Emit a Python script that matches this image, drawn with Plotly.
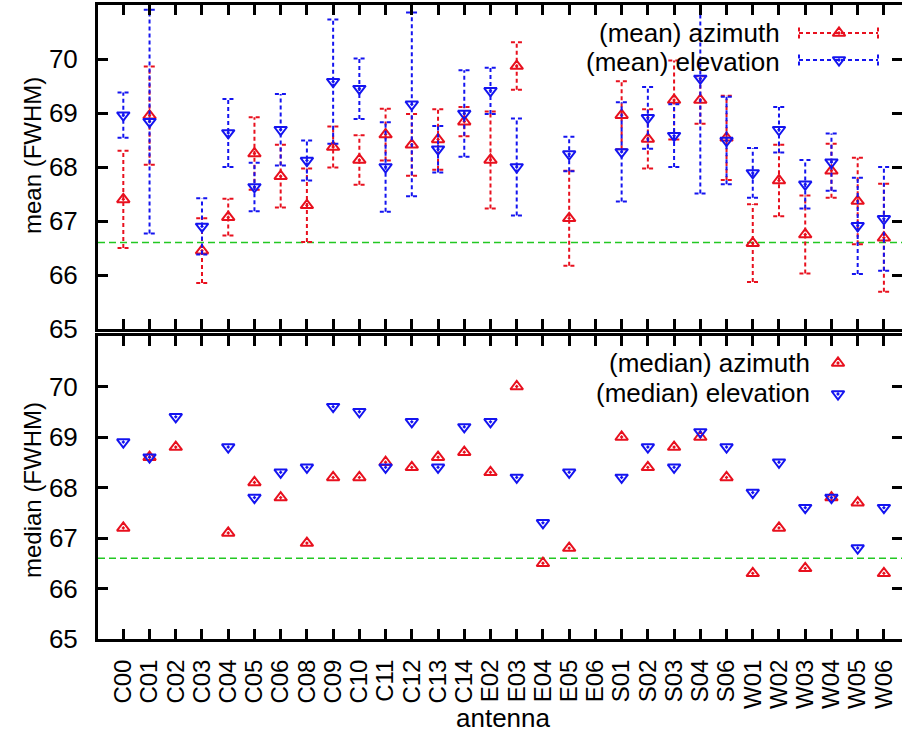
import plotly.graph_objects as go

# Antenna names along the x axis
antennas = ["C00", "C01", "C02", "C03", "C04", "C05", "C06", "C08", "C09", "C10",
            "C11", "C12", "C13", "C14", "E02", "E03", "E04", "E05", "E06", "S01",
            "S02", "S03", "S04", "S06", "W01", "W02", "W03", "W04", "W05", "W06"]

# Mean beam width (FWHM) and its standard deviation
mean_az = [67.40, 68.95, None, 66.45, 67.07, 68.25, 67.83, 67.29, 68.37, 68.13,
           68.60, 68.41, 68.51, 68.84, 68.13, 69.87, None, 67.05, None, 68.96,
           68.52, 69.24, 69.24, 68.54, 66.59, 67.75, 66.75, 67.93, 67.37, 66.69]
std_az = [0.90, 0.91, None, 0.60, 0.34, 0.67, 0.58, 0.68, 0.38, 0.46,
          0.48, 0.57, 0.56, 0.27, 0.90, 0.44, None, 0.88, None, 0.63,
          0.55, 0.73, 0.44, 0.78, 0.72, 0.66, 0.72, 0.50, 0.80, 1.00]
mean_el = [68.96, 68.84, None, 66.90, 68.63, 67.63, 68.69, 68.12, 69.58, 69.45,
           68.00, 69.16, 68.33, 68.99, 69.41, 68.00, None, 68.24, None, 68.28,
           68.91, 68.58, 69.64, 68.49, 67.89, 68.69, 67.68, 68.09, 66.91, 67.04]
std_el = [0.42, 2.07, None, 0.52, 0.63, 0.45, 0.66, 0.37, 1.15, 0.56,
          0.83, 1.70, 0.43, 0.80, 0.43, 0.90, None, 0.32, None, 0.92,
          0.57, 0.58, 2.13, 0.81, 0.46, 0.42, 0.45, 0.53, 0.89, 0.96]

# Median beam width (FWHM)
median_az = [67.2, 68.6, 68.8, None, 67.1, 68.1, 67.8, 66.9, 68.2, 68.2,
             68.5, 68.4, 68.6, 68.7, 68.3, 70.0, 66.5, 66.8, None, 69.0,
             68.4, 68.8, 69.0, 68.2, 66.3, 67.2, 66.4, 67.8, 67.7, 66.3]
median_el = [68.9, 68.6, 69.4, None, 68.8, 67.8, 68.3, 68.4, 69.6, 69.5,
             68.4, 69.3, 68.4, 69.2, 69.3, 68.2, 67.3, 68.3, None, 68.2,
             68.8, 68.4, 69.1, 68.8, 67.9, 68.5, 67.6, 67.8, 66.8, 67.6]

reference_fwhm = 66.6
y_ticks = [65, 66, 67, 68, 69, 70]

RED = "#e8101e"
BLUE = "#1414f0"
GREEN = "#22c822"
FONT = "Liberation Sans, Arial, Helvetica, sans-serif"
W, H = 902, 736
CAP = 0.22
DASH = "4px,3px"

idx = list(range(len(antennas)))


def error_segments(means, stds):
    xs, ys = [], []
    for i, m, s in zip(idx, means, stds):
        if m is None:
            continue
        lo, hi = m - s, m + s
        xs += [i, i, None, i - CAP, i + CAP, None, i - CAP, i + CAP, None]
        ys += [lo, hi, None, lo, lo, None, hi, hi, None]
    return xs, ys


def marker_trace(vals, color, symbol, xa, ya):
    return go.Scatter(
        x=idx, y=vals, xaxis=xa, yaxis=ya, mode="markers", showlegend=False,
        marker=dict(symbol=symbol, size=11, color=color,
                    line=dict(color=color, width=2)),
        cliponaxis=False,
    )


def bar_trace(means, stds, color, xa, ya):
    xs, ys = error_segments(means, stds)
    return go.Scatter(x=xs, y=ys, xaxis=xa, yaxis=ya, mode="lines",
                      showlegend=False, connectgaps=False,
                      line=dict(color=color, width=2, dash=DASH))


fig = go.Figure()

# upper panel: means with std error bars
fig.add_trace(bar_trace(mean_az, std_az, RED, "x", "y"))
fig.add_trace(marker_trace(mean_az, RED, "triangle-up-open-dot", "x", "y"))
fig.add_trace(bar_trace(mean_el, std_el, BLUE, "x", "y"))
fig.add_trace(marker_trace(mean_el, BLUE, "triangle-down-open-dot", "x", "y"))

# lower panel: medians
fig.add_trace(marker_trace(median_az, RED, "triangle-up-open-dot", "x2", "y2"))
fig.add_trace(marker_trace(median_el, BLUE, "triangle-down-open-dot", "x2", "y2"))

# key samples, drawn on a pixel-space overlay axis pair
key_x0, key_x1, key_xm = 799, 878, 839
for ky, color, sym in [(33, RED, "triangle-up-open-dot"), (60, BLUE, "triangle-down-open-dot")]:
    fig.add_trace(go.Scatter(
        x=[key_x0, key_x1, None, key_x0, key_x0, None, key_x1, key_x1],
        y=[ky, ky, None, ky - 5.5, ky + 5.5, None, ky - 5.5, ky + 5.5],
        xaxis="x3", yaxis="y3", mode="lines", showlegend=False,
        line=dict(color=color, width=2, dash=DASH)))
    fig.add_trace(go.Scatter(
        x=[key_xm], y=[ky], xaxis="x3", yaxis="y3", mode="markers", showlegend=False,
        marker=dict(symbol=sym, size=11, color=color, line=dict(color=color, width=2))))
for ky, color, sym in [(363, RED, "triangle-up-open-dot"), (394, BLUE, "triangle-down-open-dot")]:
    fig.add_trace(go.Scatter(
        x=[838], y=[ky], xaxis="x3", yaxis="y3", mode="markers", showlegend=False,
        marker=dict(symbol=sym, size=11, color=color, line=dict(color=color, width=2))))

x_left_px = 98
x_range = [-0.965, 29.69]
top_dom = [(H - 329) / H, (H - 5) / H]
bot_dom = [(H - 639) / H, (H - 336) / H]

common_x = dict(range=x_range, domain=[x_left_px / W, 1], tickvals=idx,
                ticks="inside", ticklen=10, tickwidth=3, tickcolor="black",
                showline=True, linewidth=3, linecolor="black", mirror="ticks",
                showgrid=False, zeroline=False, fixedrange=True)
common_y = dict(range=[65, 71], tickvals=y_ticks,
                ticks="inside", ticklen=10, tickwidth=3, tickcolor="black",
                showline=True, linewidth=3, linecolor="black", mirror="ticks",
                showgrid=False, zeroline=False,
                tickfont=dict(family=FONT, size=26, color="black"),
                ticklabelstandoff=12)

fig.update_layout(
    width=W, height=H,
    margin=dict(l=0, r=0, t=0, b=0, autoexpand=False),
    paper_bgcolor="white", plot_bgcolor="rgba(0,0,0,0)",
    showlegend=False,
    font=dict(family=FONT, color="black"),
    xaxis=dict(common_x, anchor="y", showticklabels=False),
    yaxis=dict(common_y, anchor="x", domain=top_dom),
    xaxis2=dict(common_x, anchor="y2", ticktext=antennas, tickangle=-90,
                tickfont=dict(family=FONT, size=24, color="black"),
                ticklabelstandoff=8),
    yaxis2=dict(common_y, anchor="x2", domain=bot_dom),
    xaxis3=dict(domain=[0, 1], range=[0, W], anchor="y3", visible=False, fixedrange=True),
    yaxis3=dict(domain=[0, 1], range=[H, 0], anchor="x3", visible=False, fixedrange=True),
)

# reference level in both panels
for ya, xa in [("y", "x"), ("y2", "x2")]:
    fig.add_shape(type="line", xref=f"{xa} domain", x0=0, x1=1, yref=ya,
                  y0=reference_fwhm, y1=reference_fwhm, layer="below",
                  line=dict(color=GREEN, width=1.5, dash="7px,4px"))

ann = []
ann.append(dict(text="mean (FWHM)", x=32 / W, y=(H - 156) / H, textangle=-90,
                font=dict(size=24)))
ann.append(dict(text="median (FWHM)", x=32 / W, y=(H - 490) / H, textangle=-90,
                font=dict(size=24)))
ann.append(dict(text="antenna", x=503 / W, y=(H - 718) / H, font=dict(size=26)))
for txt, ypx, xr in [("(mean) azimuth", 33, 782), ("(mean) elevation", 62, 782),
                     ("(median) azimuth", 363, 812), ("(median) elevation", 393, 812)]:
    ann.append(dict(text=txt, x=xr / W, y=(H - ypx) / H, xanchor="right",
                    font=dict(size=26)))
for a in ann:
    a.setdefault("xanchor", "center")
    a.update(xref="paper", yref="paper", yanchor="middle", showarrow=False)
    a["font"].update(family=FONT, color="black")
fig.update_layout(annotations=ann)

fig.write_html("out.html")
